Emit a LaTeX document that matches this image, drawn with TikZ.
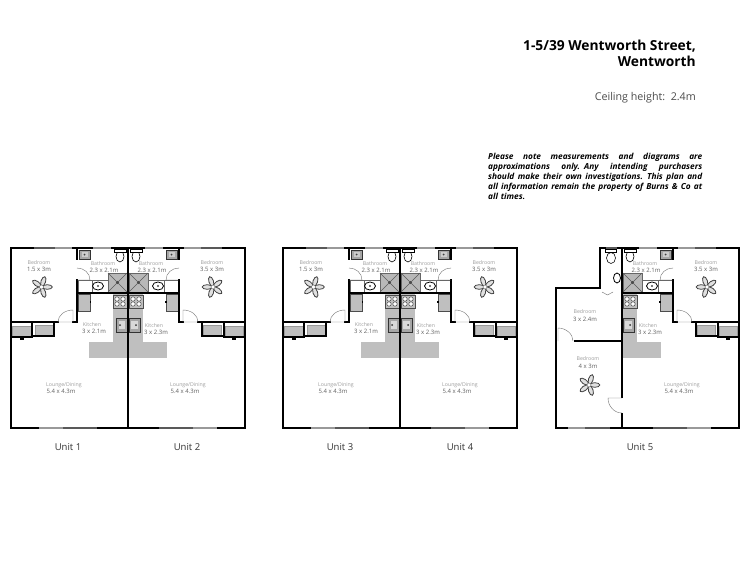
\documentclass[tikz,border=0pt]{standalone}
\usepackage{fontspec}
\setmainfont{Open Sans}
\definecolor{fixgray}{gray}{.75}
\definecolor{labelgray}{gray}{.62}
\definecolor{sizegray}{gray}{.38}
\tikzset{
	wall/.style={line width=1.7pt,line cap=rect},
	thinwall/.style={line width=.5pt,draw=black!60},
	swing/.style={line width=.4pt,draw=black!55},
	fitting/.style={fill=fixgray,draw=black!70,line width=.8pt},
	darkfit/.style={fill=black!35,draw=black!80,line width=1pt},
	winfront/.style={line width=1.8pt,draw=black!65},
	winback/.style={line width=1.8pt,draw=black!40},
	roomname/.style={text=labelgray,font=\fontsize{5.2}{6}\selectfont,inner sep=0pt},
	roomsize/.style={text=sizegray,font=\fontsize{6}{7}\selectfont,inner sep=0pt},
	unitname/.style={text=black!80,font=\fontsize{9.5}{11}\selectfont,inner sep=0pt}
}
% one justified line of the note
\newcommand{\noteline}[1]{\leavevmode\hbox to 214pt{\spaceskip=.2em plus 1fil\relax #1}}
% ceiling fan, five blades
\newcommand{\ceilingfan}[2]{
	\foreach \a in {0,72,144,216,288}{
		\draw[shift={(#1,#2)},rotate=\a,line width=.8pt,draw=black!75,fill=black!12] (5.8,0) ellipse (5 and 2.3);
	}
	\draw[fill=white,draw=black!60,line width=.4pt] (#1,#2) circle (2);
}
% one flat, drawn as unit 1
\newcommand{\flatplan}{
	% kitchen floor
	\fill[fixgray] (113,293) rectangle (128,358);
	\fill[fixgray] (89,342) rectangle (128,358);
	% shower
	\draw[fill=black!28,draw=black!60,line width=.8pt] (108,273) rectangle (127,292);
	\draw[draw=black!65,line width=.5pt] (108,273)--(127,292) (127,273)--(108,292);
	\fill[black!70] (117.5,282.5) circle (1.6);
	% vanity and basin
	\draw[thinwall] (78,280) rectangle (92,292);
	\draw[thinwall] (92,280) rectangle (108,292);
	\draw[fill=white,line width=.8pt] (98,286) ellipse (5.5 and 4);
	\fill[black!70] (98,286) circle (1.2);
	% toilet
	\draw[fill=white,line width=.6pt] (120,256.5) ellipse (4 and 5.5);
	\draw[fill=white,line width=.6pt] (114,249) rectangle (126,252);
	% tub
	\draw[darkfit] (79,250) rectangle (90,259);
	\fill[white!80!black] (81.5,252) rectangle (87.5,257);
	\fill[black!75] (84.5,254.5) circle (1);
	% stove
	\draw[fitting] (113,295) rectangle (127,308);
	\foreach \px/\py in {117/299,123/299,117/304,123/304}{
		\draw[fill=white,draw=black!70,line width=.5pt] (\px,\py) circle (2.2);
	}
	% sink
	\draw[darkfit] (116,318) rectangle (127,332);
	\fill[black!15] (118.5,321) rectangle (125,329);
	\fill[black!80] (120,325) circle (1);
	% cupboard by the kitchen door
	\draw[fitting] (78,294) rectangle (90,311);
	\fill[black] (89.5,301) rectangle (91,303);
	% robes
	\draw[fill=fixgray,draw=black!40,line width=.4pt] (12.5,326) rectangle (31,336.5);
	\draw[fill=fixgray,draw=black!40,line width=.4pt] (35,325) rectangle (53,335);
	\fill[black] (42,321.5) rectangle (46,323);
	\fill[black] (20,338) rectangle (24,339.5);
	% windows
	\draw[winback] (50,248)--(73,248);
	\draw[winfront] (33,248)--(55,248);
	\draw[winback] (92,248)--(112,248);
	\draw[winback] (38,428)--(68,428);
	\draw[winfront] (63,428)--(98,428);
	% walls
	\draw[wall] (33,248)--(11,248)--(11,428)--(38,428);
	\draw[wall] (98,428)--(128,428);
	\draw[wall] (73,248)--(92,248) (112,248)--(128,248);
	\draw[wall] (128,248)--(128,428);
	\draw[wall] (77,248)--(77,259);
	\draw[wall] (77,280)--(77,322)--(73,322);
	\draw[wall] (77,293)--(128,293);
	\draw[wall] (58,322)--(11,322);
	\draw[wall] (32,322)--(32,337)--(11,337);
	\draw[wall] (34,336)--(54,336)--(54,322);
	% doors
	\draw[swing] (77,280)--(90,280) .. controls (90,273) and (84,268) .. (77,268);
	\draw[swing] (58,322)--(73,322)--(73,310) .. controls (65,310) and (58,315) .. (58,322);
}
\begin{document}
\begin{tikzpicture}[x=1pt,y=-1pt]
	\useasboundingbox (0,0) rectangle (750,562);
	\fill[white] (0,0) rectangle (750,562);
	% the five flats
	\begin{scope}
		\flatplan
		\ceilingfan{41.5}{287}
	\end{scope}
	\begin{scope}[xshift=256pt,xscale=-1]
		\flatplan
		\ceilingfan{43}{287}
	\end{scope}
	\begin{scope}[xshift=272pt]
		\flatplan
		\ceilingfan{41.5}{287}
	\end{scope}
	\begin{scope}[xshift=528pt,xscale=-1]
		\flatplan
		\ceilingfan{43}{287}
	\end{scope}
	\begin{scope}[xshift=750pt,xscale=-1]
		\flatplan
		\ceilingfan{43}{287}
	\end{scope}
	% extra rooms of unit 5
	\draw[winfront] (605,248)--(618,248);
	\draw[wall] (622,248)--(618,248) (605,248)--(600,248)--(600,288)--(556,288)--(556,428)--(568,428);
	\draw[wall] (610,428)--(622,428);
	\draw[wall] (575,341)--(622,341);
	\draw[winback] (568,428)--(590,428);
	\draw[winfront] (585,428)--(610,428);
	\draw[fill=white,line width=.6pt] (611,258) ellipse (4.5 and 5.5);
	\draw[fill=white,line width=.6pt] (605.5,249) rectangle (616.5,252.5);
	\draw[fill=white,line width=.8pt] (617,278) ellipse (3.5 and 5);
	\draw[swing] (602,292)--(607.5,295)--(613,292);
	\draw[swing] (558,341)--(558,328) .. controls (566,328) and (573,334) .. (573,341);
	\fill[white] (620.5,398) rectangle (623.5,413);
	\draw[swing] (622,398)--(608,398) .. controls (608,406) and (614,413) .. (622,413);
	\ceilingfan{589}{385}
	% room labels
	\foreach \n/\bx/\bs/\ks/\kx/\ky/\lx in {
		1/39/1.5 x 3m/3 x 2.1m/92/325/64,
		3/311/1.5 x 3m/3 x 2.1m/364/325/336,
		2/212/3.5 x 3m/3 x 2.3m/154/326/188,
		4/484/3.5 x 3m/3 x 2.3m/426/326/460,
		5/706/3.5 x 3m/3 x 2.3m/648/326/682}{
		\node[roomname] (bed\n) at (\bx,263) {Bedroom};
		\node[roomsize] (bedsize\n) at (\bx,269.5) {\bs};
		\node[roomname] (kit\n) at (\kx,\ky) {Kitchen};
		\node[roomsize] (kitsize\n) at (\kx+2,\ky+6.5) {\ks};
		\node[roomname] (lounge\n) at (\lx,385) {Lounge/Dining};
		\node[roomsize] (loungesize\n) at (\lx-3,391.5) {5.4 x 4.3m};
	}
	\foreach \n/\tx in {1/103,2/151,3/375,4/423,5/645}{
		\node[roomname] (bath\n) at (\tx,263.5) {Bathroom};
		\node[roomsize] (bathsize\n) at (\tx+1,270) {2.3 x 2.1m};
	}
	\node[roomname] (bedb) at (585,312) {Bedroom};
	\node[roomsize] (bedbsize) at (585,319) {3 x 2.4m};
	\node[roomname] (bedc) at (588,359) {Bedroom};
	\node[roomsize] (bedcsize) at (588,366) {4 x 3m};
	% unit names
	\foreach \n/\ux in {1/68,2/187,3/340,4/460,5/640}{
		\node[unitname] (unit\n) at (\ux,447.5) {Unit \n};
	}
	% heading and note
	\node[anchor=east,inner sep=0pt,font=\fontsize{13.8}{16}\selectfont\bfseries] (title) at (696,46) {1-5/39 Wentworth Street,};
	\node[anchor=east,inner sep=0pt,font=\fontsize{13.8}{16}\selectfont\bfseries] (place) at (696,61.5) {Wentworth};
	\node[anchor=east,inner sep=0pt,text=black!70,font=\fontsize{10.7}{12}\selectfont] (ceiling) at (696,98) {Ceiling height:\ \ 2.4m};
	\node[anchor=north west,inner sep=0pt,text width=214pt,align=left,font=\fontsize{8.3}{9.9}\selectfont\itshape\bfseries] (note) at (488,153) {\noteline{Please note measurements and diagrams are}\\\noteline{approximations only. Any intending purchasers}\\\noteline{should make their own investigations. This plan and}\\\noteline{all information remain the property of Burns \& Co at}\\all times.};
\end{tikzpicture}
\end{document}
